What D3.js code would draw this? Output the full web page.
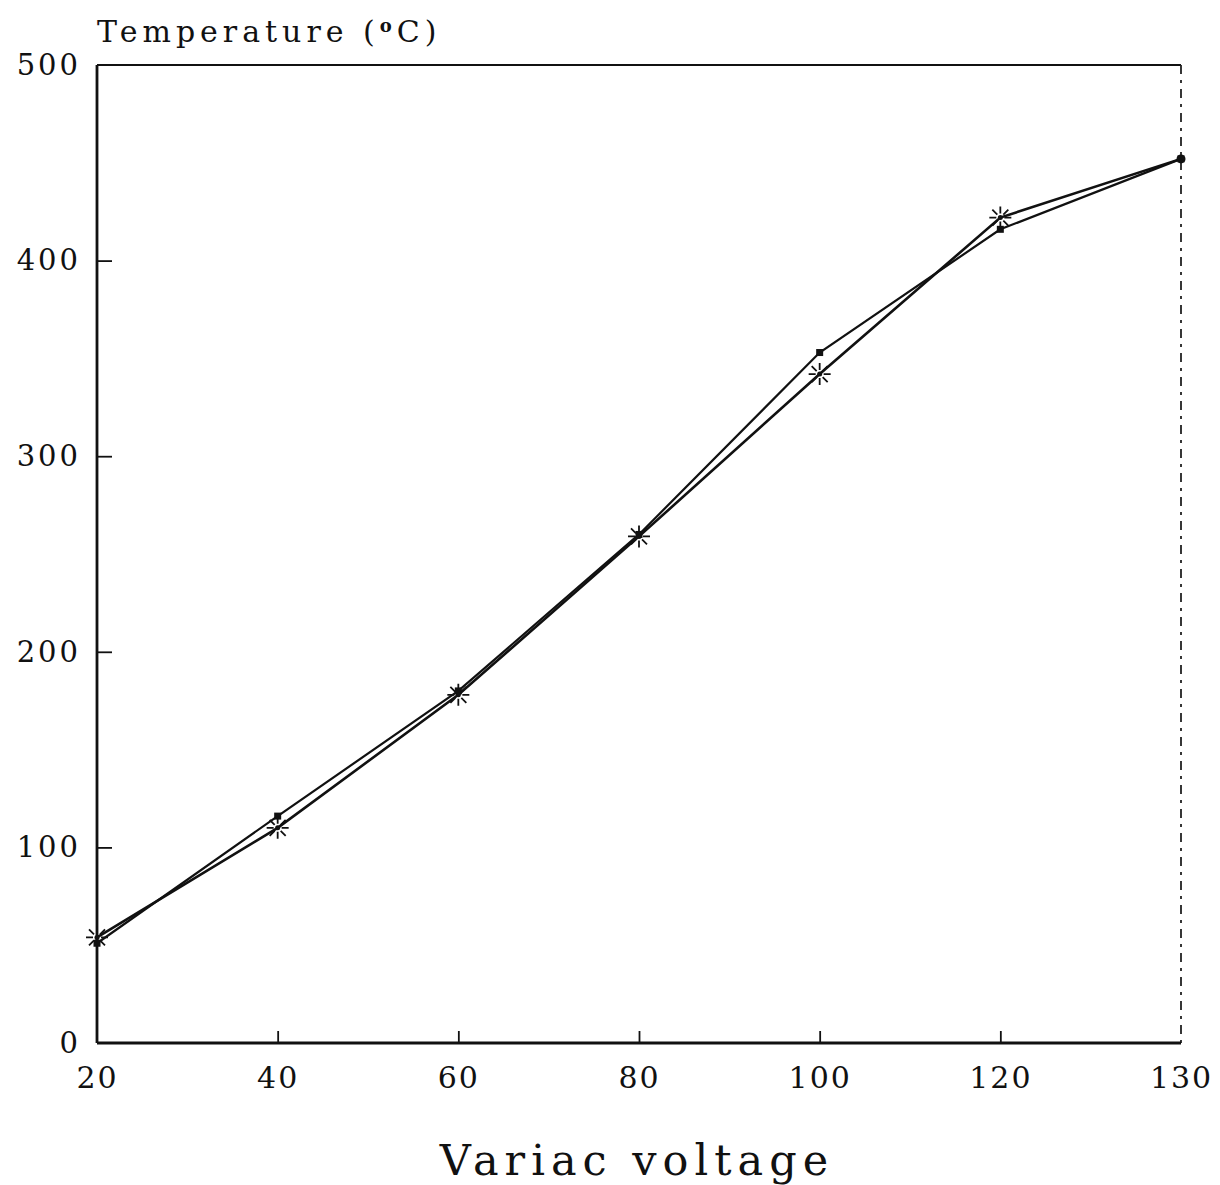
<!DOCTYPE html>
<html>
<head>
<meta charset="utf-8">
<script src="https://cdn.jsdelivr.net/npm/d3@7"></script>
<style>
  html, body { margin: 0; padding: 0; background: #fff; }
  svg { display: block; }
</style>
</head>
<body>
<div id="chart"></div>
<script>
// voltage settings (plotted at equal spacing, as in the original)
const voltages = ['20', '40', '60', '80', '100', '120', '130'];
// series drawn with small square markers
const squareTemps = [51, 116, 180, 260, 353, 416, 452];
// series drawn with asterisk markers
const starTemps = [54, 110, 178, 259, 342, 422, 452];
const yTicks = [0, 100, 200, 300, 400, 500];

const width = 1220, height = 1185;
const margin = { top: 65, right: 39, bottom: 142, left: 97 };

const svg = d3.select('#chart').append('svg')
  .attr('width', width)
  .attr('height', height);

const x = d3.scalePoint()
  .domain(voltages)
  .range([margin.left, width - margin.right]);

const y = d3.scaleLinear()
  .domain([0, 500])
  .range([height - margin.bottom, margin.top]);

const serif = '"DejaVu Serif", "Liberation Serif", serif';

// frame: top and broken right edge
svg.append('line')
  .attr('x1', x('20')).attr('x2', x('130'))
  .attr('y1', y(500)).attr('y2', y(500))
  .attr('stroke', '#111').attr('stroke-width', 2.2);
svg.append('line')
  .attr('x1', x('130')).attr('x2', x('130'))
  .attr('y1', y(500)).attr('y2', y(0))
  .attr('stroke', '#222').attr('stroke-width', 1.8)
  .attr('stroke-dasharray', '9 6 3 6');

// x axis, ticks pointing inward
const xAxis = svg.append('g')
  .attr('transform', `translate(0, ${y(0)})`)
  .call(d3.axisBottom(x).tickSize(-12).tickPadding(24));
xAxis.select('.domain').attr('stroke', '#111').attr('stroke-width', 2.8)
  .attr('d', `M${x('20')},0H${x('130')}`);
xAxis.selectAll('.tick line')
  .attr('stroke', '#111').attr('stroke-width', 1.8)
  .filter(d => d === '20' || d === '130').remove();
xAxis.selectAll('.tick text')
  .attr('font-family', serif)
  .attr('font-size', 30)
  .attr('letter-spacing', 2)
  .attr('fill', '#111');

// y axis, ticks pointing inward
const yAxis = svg.append('g')
  .attr('transform', `translate(${x('20')}, 0)`)
  .call(d3.axisLeft(y).tickValues(yTicks).tickSize(-15).tickPadding(16));
yAxis.select('.domain').attr('stroke', '#111').attr('stroke-width', 2.8)
  .attr('d', `M0,${y(500)}V${y(0)}`);
yAxis.selectAll('.tick line')
  .attr('stroke', '#111').attr('stroke-width', 1.8)
  .filter(d => d === 0 || d === 500).remove();
yAxis.selectAll('.tick text')
  .attr('font-family', serif)
  .attr('font-size', 29)
  .attr('letter-spacing', 3)
  .attr('fill', '#111');

// lines
const line = d3.line()
  .x((d, i) => x(voltages[i]))
  .y(d => y(d));

svg.append('path')
  .datum(squareTemps)
  .attr('d', line)
  .attr('fill', 'none')
  .attr('stroke', '#111')
  .attr('stroke-width', 2.2);

svg.append('path')
  .datum(starTemps)
  .attr('d', line)
  .attr('fill', 'none')
  .attr('stroke', '#111')
  .attr('stroke-width', 2.6);

// markers
svg.append('g').selectAll('rect')
  .data(squareTemps)
  .join('rect')
  .attr('x', (d, i) => x(voltages[i]) - 3.5)
  .attr('y', d => y(d) - 3.5)
  .attr('width', 7)
  .attr('height', 7)
  .attr('fill', '#111');

// last reading shows only as a heavy dot in the original
const star = 'M0,-11V-4M0,4V11M-11,0H-4M4,0H11M-8,-8L-3,-3M3,3L8,8M-8,8L-3,3M3,-3L8,-8';
svg.append('g').selectAll('path')
  .data(starTemps.slice(0, -1))
  .join('path')
  .attr('transform', (d, i) => `translate(${x(voltages[i])}, ${y(d)})`)
  .attr('d', star)
  .attr('fill', 'none')
  .attr('stroke', '#111')
  .attr('stroke-width', 1.8);
svg.append('g').selectAll('circle')
  .data(starTemps)
  .join('circle')
  .attr('cx', (d, i) => x(voltages[i]))
  .attr('cy', d => y(d))
  .attr('r', (d, i) => i === starTemps.length - 1 ? 4.5 : 2.5)
  .attr('fill', '#111');

// axis titles
const yTitle = svg.append('text')
  .attr('x', 97)
  .attr('y', 42)
  .attr('font-family', serif)
  .attr('font-size', 30)
  .attr('letter-spacing', 5)
  .attr('fill', '#111')
  .text('Temperature (');
yTitle.append('tspan')
  .attr('font-size', 18)
  .attr('font-weight', 'bold')
  .attr('dy', -10)
  .text('o');
yTitle.append('tspan')
  .attr('dy', 10)
  .text('C)');

svg.append('text')
  .attr('x', 637)
  .attr('y', 1175)
  .attr('text-anchor', 'middle')
  .attr('font-family', serif)
  .attr('font-size', 43)
  .attr('letter-spacing', 6)
  .attr('fill', '#111')
  .text('Variac voltage');
</script>
</body>
</html>
